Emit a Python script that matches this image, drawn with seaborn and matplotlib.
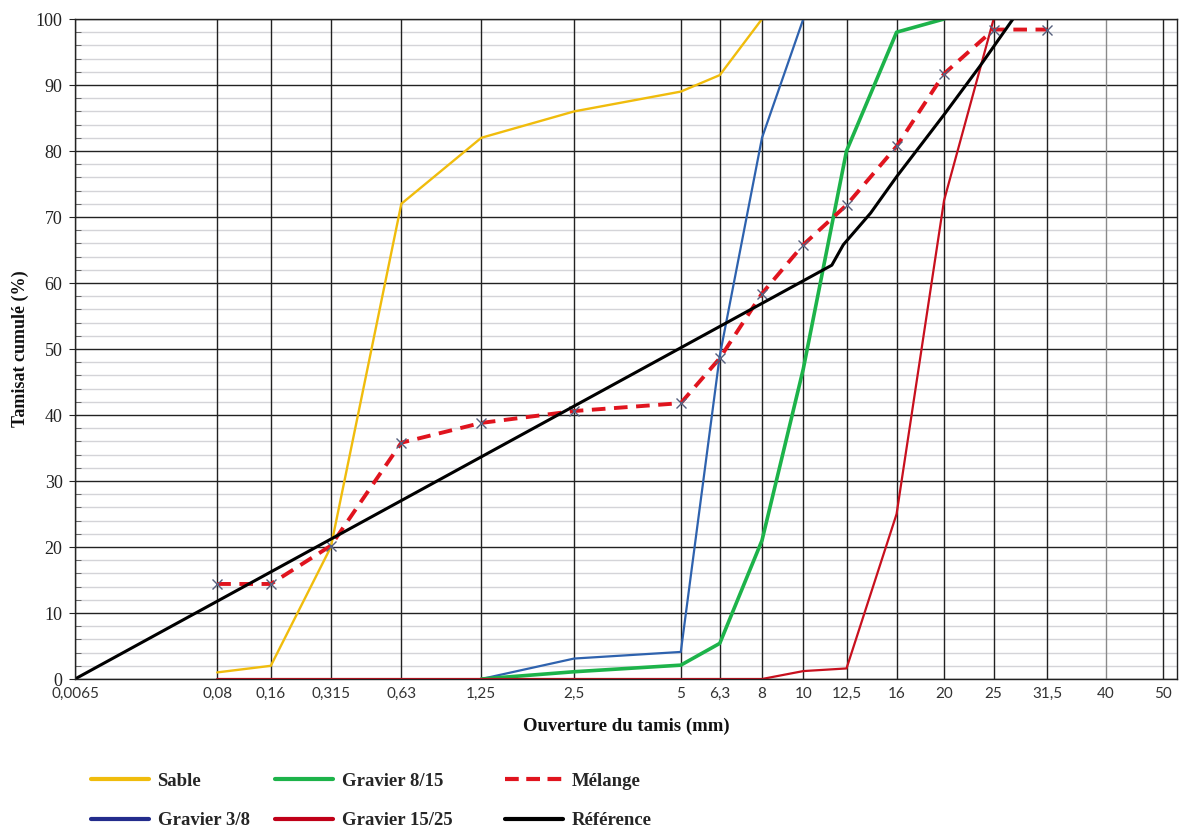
import numpy as np
import pandas as pd
import seaborn as sns
import matplotlib
matplotlib.use("Agg")
import matplotlib.pyplot as plt
from matplotlib.lines import Line2D
from matplotlib.ticker import FixedLocator, MultipleLocator

# ---------------- data ----------------
sieve_ticks = [0.0065, 0.08, 0.16, 0.315, 0.63, 1.25, 2.5, 5, 6.3, 8, 10,
               12.5, 16, 20, 25, 31.5, 40, 50]
tick_labels = ["0,0065", "0,08", "0,16", "0,315", "0,63", "1,25", "2,5", "5",
               "6,3", "8", "10", "12,5", "16", "20", "25", "31,5", "40", "50"]

sable_x = [0.08, 0.16, 0.315, 0.63, 1.25, 2.5, 5, 6.3, 8]
sable_y = [1, 2, 20, 72, 82, 86, 89, 91.5, 100]

g38_x = [1.25, 2.5, 5, 6.3, 8, 10]
g38_y = [0, 3.1, 4.1, 49, 82, 100]

g815_x = [1.25, 2.5, 5, 6.3, 8, 10, 12.5, 16, 20]
g815_y = [0, 1.1, 2.1, 5.4, 21, 47, 80, 98, 100]

g1525_x = [0.08, 0.16, 0.315, 0.63, 1.25, 2.5, 5, 6.3, 8, 10, 12.5, 16, 20, 25, 31.5]
g1525_y = [0, 0, 0, 0, 0, 0, 0, 0, 0, 1.2, 1.6, 25, 72.5, 100, 100]

melange_x = [0.08, 0.16, 0.315, 0.63, 1.25, 2.5, 5, 6.3, 8, 10, 12.5, 16, 20, 25, 31.5]
melange_y = [14.4, 14.4, 20.2, 35.8, 38.8, 40.6, 41.8, 48.6, 58.4, 65.8, 71.8,
             80.7, 91.7, 98.4, 98.4]

ref_x = [0.0065, 11.6, 12.3, 14.1, 16, 20, 23.5, 27.2]
ref_y = [0, 62.7, 65.8, 70.6, 76.1, 85.5, 92.8, 100]

labels = ["Sable", "Gravier 3/8", "Gravier 8/15", "Gravier 15/25", "Mélange", "Référence"]

# ---------------- figure ----------------
sns.set_style("white")
plt.rcParams["font.family"] = ["Liberation Serif", "DejaVu Serif"]

fig = plt.figure(figsize=(11.79, 8.30), dpi=100)
ax = fig.add_axes([75 / 1179, 1 - 679 / 830, (1177 - 75) / 1179, (679 - 19) / 830])

c_sable = "#F0BC0C"
c_g38 = "#2E62AE"
c_g815 = "#1DB34A"
c_g1525 = "#C8101E"
c_mel = "#E0141E"
c_ref = "#000000"

sns.lineplot(x=sable_x, y=sable_y, ax=ax, color=c_sable, lw=1.7, sort=False, estimator=None)
sns.lineplot(x=g38_x, y=g38_y, ax=ax, color=c_g38, lw=1.6, sort=False, estimator=None)
sns.lineplot(x=g815_x, y=g815_y, ax=ax, color=c_g815, lw=2.6, sort=False, estimator=None)
sns.lineplot(x=g1525_x, y=g1525_y, ax=ax, color=c_g1525, lw=1.6, sort=False, estimator=None)
sns.lineplot(x=melange_x, y=melange_y, ax=ax, color=c_mel, lw=2.8, sort=False,
             estimator=None, linestyle="--", marker="x", markersize=7.5,
             markeredgecolor="#56607e", markeredgewidth=1.0)
ax.lines[-1].set_dashes((3.5, 2.2))
sns.lineplot(x=ref_x, y=ref_y, ax=ax, color=c_ref, lw=2.2, sort=False, estimator=None)

fwd = lambda x: np.power(np.clip(x, 1e-12, None), 0.2)
inv = lambda u: np.power(np.clip(u, 0, None), 5.0)
ax.set_xscale("function", functions=(fwd, inv))
ax.set_xlim(0.0065, 52.8)
ax.set_ylim(0, 100)

ax.xaxis.set_major_locator(FixedLocator(sieve_ticks))
ax.set_xticklabels(tick_labels)
ax.xaxis.set_minor_locator(FixedLocator([]))
ax.yaxis.set_major_locator(MultipleLocator(10))
ax.yaxis.set_minor_locator(MultipleLocator(2))

ax.set_axisbelow(True)
ax.grid(which="major", axis="both", color="#222222", lw=1.0)
ax.grid(which="minor", axis="y", color="#d4d4d8", lw=1.0)
# vertical grid above the light horizontal minor grid
ax.yaxis.set_zorder(0.4)
ax.xaxis.set_zorder(0.6)
# the 40 mm line is lighter in the original
for t, gl in zip(sieve_ticks, ax.get_xgridlines()):
    if t == 40:
        gl.set_color("#8a8a8a")

for s in ax.spines.values():
    s.set_color("#222222")
    s.set_linewidth(1.0)
    s.set_visible(True)
    s.set_zorder(3)

ax.tick_params(axis="x", which="major", length=0, pad=6, labelsize=11, colors="#333333")
ax.tick_params(axis="y", which="major", length=4, direction="out", pad=5,
               labelsize=13, colors="#222222", left=True)
ax.tick_params(axis="y", which="minor", length=4, direction="in", left=True, color="#555555")
for lab in ax.get_xticklabels():
    lab.set_family(["Lato", "DejaVu Sans"])

ax.set_xlabel("Ouverture du tamis (mm)", fontsize=13.5, fontweight="bold",
              color="#111111", labelpad=12)
ax.set_ylabel("Tamisat cumulé (%)", fontsize=13, fontweight="bold",
              color="#111111", labelpad=10)
ax.yaxis.set_label_coords(-46 / 1102, 0.5)

# ---------------- legend (three columns) ----------------
def h(color, lw=3.0, ls="-"):
    return Line2D([0], [0], color=color, lw=lw, ls=ls)

mel_h = Line2D([0], [0], color=c_mel, lw=3.0, ls=(0, (3.3, 1.8)))
cols = [
    ([h(c_sable), h("#232C8C")], [labels[0], labels[1]], 91),
    ([h(c_g815), h("#C00018")], [labels[2], labels[3]], 275),
    ([mel_h, h("#000000")], [labels[4], labels[5]], 505),
]
for handles, labs, x0 in cols:
    fig.legend(handles, labs, loc="center left",
               bbox_to_anchor=(x0 / 1179, 1 - 801 / 830),
               frameon=False, ncol=1, handlelength=3.1, handletextpad=0.45,
               labelspacing=1.2, borderpad=0, borderaxespad=0,
               prop={"family": "Liberation Serif", "weight": "bold", "size": 13.5})

fig.savefig("out.png", dpi=100)
